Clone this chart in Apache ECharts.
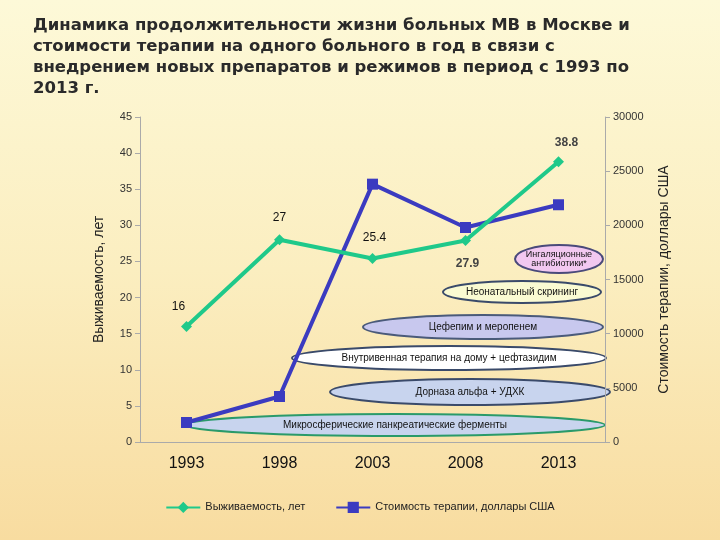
<!DOCTYPE html>
<html><head><meta charset="utf-8">
<script src="https://cdn.jsdelivr.net/npm/echarts@6/dist/echarts.min.js"></script>
<style>html,body{margin:0;padding:0}
#c{width:720px;height:540px;background:linear-gradient(180deg,#fdf9d8 0%,#fbeec0 50%,#f8dca0 100%)}</style>
</head><body><div id="c"></div>
<script>
// данные
var years = ['1993', '1998', '2003', '2008', '2013'];
var survival = [16, 28, 25.4, 27.9, 38.8];
var survivalLabels = ['16', '27', '25.4', '27.9', '38.8'];
var cost = [1800, 4200, 23800, 19800, 21900];

var chart = echarts.init(document.getElementById('c'));
var labOffsets = [[-8, -3], [0, -6], [2, -4], [2, 40], [8, -3]];
var labBold = [false, false, false, true, true];

function ellipse(cx, cy, rx, ry, fill, stroke, text, size) {
  return {
    type: 'group', children: [
      {type: 'ellipse', shape: {cx: cx, cy: cy, rx: rx, ry: ry},
       style: {fill: fill, stroke: stroke, lineWidth: 2}},
      {type: 'text', x: cx, y: cy,
       style: {text: text, align: 'center', verticalAlign: 'middle',
               font: (size || 10) + 'px "Liberation Sans"', fill: '#111'}}
    ]
  };
}

chart.setOption({
  textStyle: {fontFamily: 'Liberation Sans'},
  title: {
    text: 'Динамика продолжительности жизни больных МВ в Москве и\nстоимости терапии на одного больного в год в связи с\nвнедрением новых препаратов и режимов в период с 1993 по\n2013 г.',
    left: 28, top: 10,
    textStyle: {fontFamily: 'DejaVu Sans', fontSize: 16.5, fontWeight: 'bold', color: '#2a2a2a', lineHeight: 21}
  },
  grid: {left: 140, right: 115, top: 117, bottom: 98},
  legend: {
    bottom: 22, left: 'center', itemGap: 30, itemWidth: 34,
    textStyle: {fontSize: 11, color: '#222'},
    data: ['Выживаемость, лет', 'Стоимость терапии, доллары США']
  },
  xAxis: {
    type: 'category', data: years, boundaryGap: true,
    axisLine: {lineStyle: {color: '#aaa'}}, axisTick: {show: false},
    axisLabel: {fontSize: 16, color: '#111', margin: 14}
  },
  yAxis: [{
    type: 'value', min: 0, max: 45, interval: 5,
    name: 'Выживаемость, лет', nameLocation: 'middle', nameGap: 34,
    nameTextStyle: {fontSize: 14, color: '#222'},
    axisLine: {show: true, lineStyle: {color: '#aaa'}}, axisTick: {show: true},
    axisLabel: {fontSize: 11, color: '#333'}, splitLine: {show: false}
  }, {
    type: 'value', min: 0, max: 30000, interval: 5000,
    name: 'Стоимость терапии, доллары США', nameLocation: 'middle', nameGap: 52,
    nameRotate: 90,
    nameTextStyle: {fontSize: 14, color: '#222'},
    axisLine: {show: true, lineStyle: {color: '#aaa'}}, axisTick: {show: true},
    axisLabel: {fontSize: 11, color: '#333', formatter: function (v) { return String(v); }},
    splitLine: {show: false}
  }],
  series: [{
    name: 'Выживаемость, лет', type: 'line', yAxisIndex: 0,
    symbol: 'diamond', symbolSize: 11,
    lineStyle: {width: 4, color: '#1fc98a'}, itemStyle: {color: '#1fc98a'},
    data: survival.map(function (v, i) {
      return {value: v, label: {show: true, formatter: survivalLabels[i], offset: labOffsets[i],
        fontSize: 12, color: labBold[i] ? '#444' : '#111', fontWeight: labBold[i] ? 'bold' : 'normal'}};
    }),
    z: 3
  }, {
    name: 'Стоимость терапии, доллары США', type: 'line', yAxisIndex: 1,
    symbol: 'rect', symbolSize: 11,
    lineStyle: {width: 4, color: '#3b3bc0'}, itemStyle: {color: '#3b3bc0'},
    data: cost, z: 2
  }],
  graphic: [
    ellipse(559, 259, 44, 14, '#f2c8f0', '#4a4a7a', 'Ингаляционные\nантибиотики*', 9),
    ellipse(522, 292, 79, 11, '#fafad2', '#3a4a6a', 'Неонатальный скрининг'),
    ellipse(483, 327, 120, 12, '#c8c8ee', '#4a5a7a', 'Цефепим и меропенем'),
    ellipse(449, 358, 157, 12, '#ffffff', '#3a4a6a', 'Внутривенная терапия на дому + цефтазидим'),
    ellipse(470, 392, 140, 13, '#c8d4ee', '#3a4a6a', 'Дорназа альфа + УДХК'),
    ellipse(395, 425, 210, 11, '#c8d4ee', '#2a9a6a', 'Микросферические панкреатические ферменты')
  ]
});
</script></body></html>
